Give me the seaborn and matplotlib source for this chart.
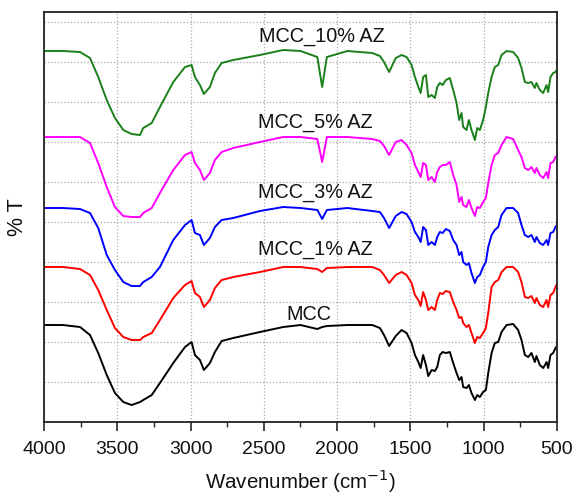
import numpy as np
import pandas as pd
import matplotlib
matplotlib.use("Agg")
import matplotlib.pyplot as plt
from matplotlib.ticker import MultipleLocator
import seaborn as sns

# wavenumber grid (cm-1)
wavenumber = [4000, 3870, 3754, 3686, 3630, 3572, 3516, 3459, 3402, 3345, 3323, 3265, 3209, 3118,
              3038, 2993, 2970, 2936, 2909, 2868, 2834, 2788, 2709, 2527, 2368, 2250, 2135, 2102,
              2070, 1930, 1760, 1708, 1680, 1645, 1600, 1560, 1526, 1492, 1469, 1446, 1430, 1413,
              1394, 1378, 1355, 1333, 1317, 1299, 1280, 1258, 1231, 1208, 1185, 1167, 1151, 1140,
              1117, 1101, 1083, 1060, 1044, 1026, 1004, 985, 969, 946, 924, 901, 878, 844, 799,
              765, 742, 719, 696, 674, 651, 640, 617, 594, 571, 560, 544, 526, 510, 500]

# offset transmittance (arbitrary units) for each sample
t_mcc = [97, 97, 95, 87, 69, 47, 29, 20, 17, 20, 22, 27, 39, 59,
         75, 80, 67, 62, 52, 59, 70, 81, 84, 90, 95, 97, 93, 95,
         96, 97, 97, 94, 87, 76, 86, 92, 89, 79, 67, 60, 54, 67,
         57, 46, 52, 51, 55, 67, 70, 69, 70, 59, 49, 42, 45, 35,
         34, 37, 29, 22, 27, 25, 30, 32, 49, 69, 79, 80, 90, 97, 98,
         92, 82, 67, 65, 69, 60, 66, 57, 54, 60, 54, 67, 69, 74, 76]
t_1az = [155, 155, 153, 147, 132, 112, 94, 85, 82, 82, 85, 89, 102, 124,
         137, 141, 129, 125, 115, 122, 134, 142, 145, 150, 155, 155, 153, 150,
         154, 155, 155, 152, 147, 139, 147, 150, 147, 139, 127, 122, 116, 130,
         122, 112, 115, 112, 122, 129, 128, 131, 130, 120, 112, 104, 105, 99,
         95, 97, 89, 79, 85, 84, 89, 94, 109, 135, 140, 142, 150, 155, 155,
         150, 140, 125, 124, 126, 119, 124, 117, 115, 122, 115, 127, 129, 135, 138]
t_3az = [214, 214, 213, 209, 194, 167, 152, 140, 136, 136, 140, 145, 155, 182,
         197, 202, 189, 187, 177, 184, 195, 202, 204, 211, 215, 214, 212, 203,
         212, 214, 211, 210, 204, 194, 206, 210, 208, 200, 190, 185, 180, 195,
         192, 177, 180, 177, 185, 190, 189, 193, 191, 182, 177, 167, 170, 160,
         157, 159, 149, 139, 145, 147, 155, 160, 175, 187, 192, 195, 207, 214, 214,
         209, 197, 187, 185, 187, 180, 185, 179, 177, 182, 177, 189, 190, 195, 197]
t_5az = [285, 285, 285, 279, 259, 235, 215, 206, 205, 205, 209, 214, 229, 252,
         267, 270, 259, 252, 242, 249, 262, 270, 274, 280, 285, 285, 283, 260,
         285, 285, 283, 281, 276, 267, 280, 282, 277, 269, 257, 250, 245, 259,
         257, 242, 245, 240, 250, 255, 257, 257, 260, 247, 237, 220, 225, 217,
         215, 222, 214, 206, 215, 214, 220, 224, 239, 257, 267, 269, 277, 285, 283,
         272, 265, 254, 252, 255, 249, 254, 247, 244, 250, 244, 259, 260, 265, 266]
t_10az = [371, 371, 370, 364, 345, 322, 304, 292, 288, 287, 294, 299, 315, 340,
          355, 357, 345, 337, 328, 335, 349, 359, 362, 367, 372, 371, 365, 335,
          365, 371, 369, 366, 360, 350, 364, 367, 365, 357, 345, 335, 329, 345,
          347, 325, 327, 324, 335, 339, 337, 342, 344, 332, 319, 302, 309, 295,
          292, 302, 292, 282, 294, 292, 302, 315, 329, 345, 355, 357, 367, 371, 370,
          364, 354, 340, 339, 340, 334, 339, 332, 329, 337, 330, 345, 349, 350, 352]

samples = ["MCC", "MCC_1% AZ", "MCC_3% AZ", "MCC_5% AZ", "MCC_10% AZ"]
colors = ["black", "#ff0000", "#0000ff", "#ff00ff", "#1a801a"]
label_x = [2190, 2145, 2145, 2150, 2105]
label_y = [108, 173, 230, 300, 386]

df = pd.DataFrame({"wn": wavenumber, "MCC": t_mcc, "MCC_1% AZ": t_1az,
                   "MCC_3% AZ": t_3az, "MCC_5% AZ": t_5az, "MCC_10% AZ": t_10az})
long = df.melt(id_vars="wn", var_name="sample", value_name="T")

sns.set_style("white")
plt.rcParams["font.family"] = ["Liberation Sans", "DejaVu Sans"]

fig = plt.figure(figsize=(5.73, 4.94), dpi=100)
ax = fig.add_axes([0.0768, 0.1457, 0.8952, 0.83])

sns.lineplot(data=long, x="wn", y="T", hue="sample", hue_order=samples,
             palette=colors, linewidth=1.4, legend=False, ax=ax)

for name, lx, ly in zip(samples, label_x, label_y):
    ax.text(lx, ly, name, fontsize=14.3, ha="center", va="center", color="#111111")

ax.set_xlim(4000, 500)
ax.set_ylim(0, 410)
ax.xaxis.set_major_locator(MultipleLocator(500))
ax.xaxis.set_minor_locator(MultipleLocator(250))
ax.set_yticks(np.arange(40, 401, 40))
ax.set_yticklabels([])
ax.tick_params(axis="y", length=0)
ax.tick_params(axis="x", which="major", direction="out", length=6.5, width=1.2,
               labelsize=14, pad=7, bottom=True, labelcolor="#111111")
ax.tick_params(axis="x", which="minor", direction="out", length=3.5, width=1.0, bottom=True)

ax.grid(True, which="major", linestyle=":", color="#aaaaaa", linewidth=0.9)
for s in ax.spines.values():
    s.set_color("#222222")
    s.set_linewidth(1.3)

ax.set_xlabel("Wavenumber (cm$^{-1}$)", fontsize=14.8, labelpad=7, color="#111111")
ax.set_ylabel("% T", fontsize=15.5, labelpad=8, color="#111111")

fig.savefig("out.png", dpi=100)
